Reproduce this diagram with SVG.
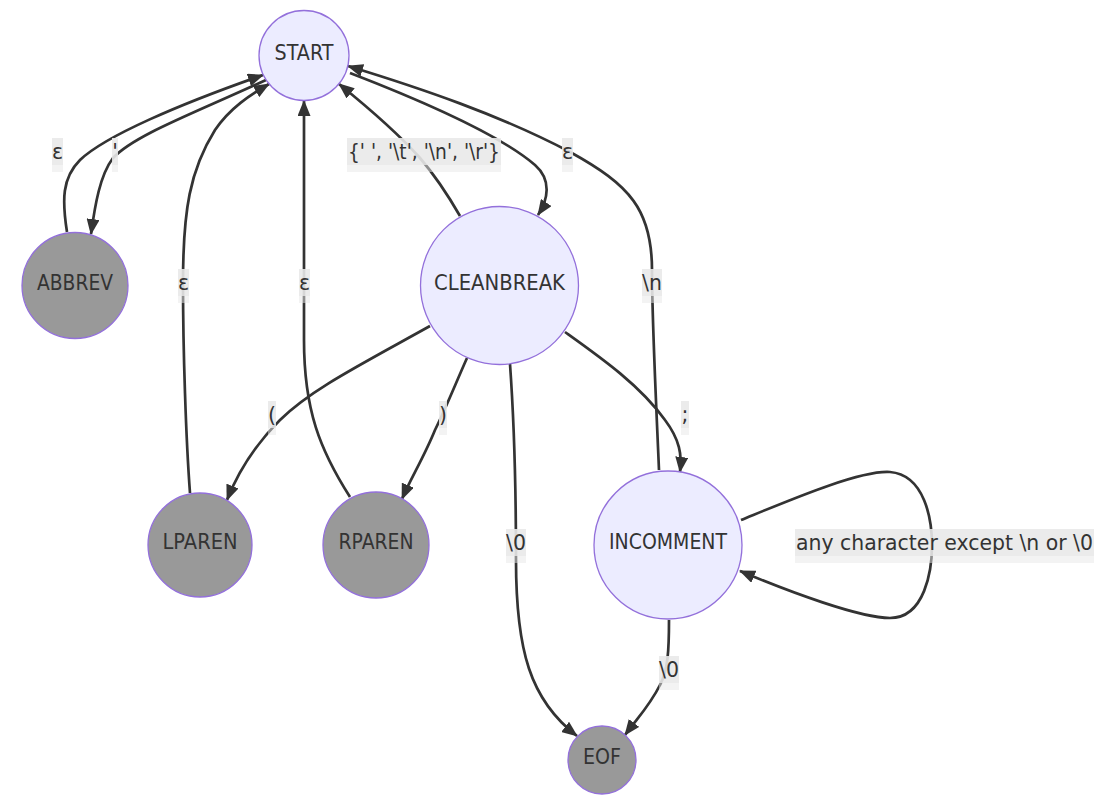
<svg xmlns="http://www.w3.org/2000/svg" width="1116" height="806" viewBox="0 0 1116 806">
<defs>
<style>
.node circle{stroke:#9370DB;stroke-width:1.3}
.state circle{fill:#ECECFF}
.final circle{fill:#999999}
.node text{font-family:"DejaVu Sans",sans-serif;font-size:20.5px;fill:#333333;text-anchor:middle}
.edges path{fill:none;stroke:#333333;stroke-width:2.7;marker-end:url(#arrow)}
.lbl .bgA{fill:#e8e8e8;fill-opacity:0.8}
.lbl .bgB{fill:#e8e8e8;fill-opacity:0.5}
.lbl text{font-family:"DejaVu Sans",sans-serif;font-size:20.5px;fill:#333333;text-anchor:middle}
</style>
<marker id="arrow" viewBox="0 0 16 13" refX="15" refY="6.5" markerWidth="16" markerHeight="13" markerUnits="userSpaceOnUse" orient="auto">
<path d="M0,0 L16,6.5 L0,13 z" fill="#333333"/>
</marker>
</defs>
<rect width="1116" height="806" fill="#ffffff"/>
<g id="connectors" class="edges">
<path id="e-abbrev-start" d="M67,232 C62,200 62,178 80,160 C105,136 180,104 263,75"/>
<path id="e-start-abbrev" d="M266,80 C190,115 135,135 113,158 C100,175 95,205 91,234"/>
<path id="e-lparen-start" d="M190,493 C186,440 183,350 183,283 C183,210 190,170 215,130 C230,108 250,95 269,84"/>
<path id="e-rparen-start" d="M350,497 C320,450 304,410 304,340 L304,101"/>
<path id="e-clean-start" d="M460,216 C445,190 432,172 420,158 C395,130 365,105 339,84"/>
<path id="e-start-clean" d="M350,73 C420,100 500,135 535,165 C552,180 548,200 538,215"/>
<path id="e-incomment-start" d="M659,470 C656,400 652,320 652,270 C652,210 630,185 570,152 C500,115 420,88 348,66"/>
<path id="e-clean-lparen" d="M430,326 C360,365 310,390 280,420 C255,445 238,472 227,500"/>
<path id="e-clean-rparen" d="M467,358 C455,385 445,410 435,430 C425,455 410,480 402,499"/>
<path id="e-clean-incomment" d="M565,332 C600,357 640,385 665,420 C680,440 682,455 680,472"/>
<path id="e-clean-eof" d="M510,364 C514,420 516,480 516,560 C516,650 530,700 577,736"/>
<path id="e-incomment-eof" d="M669,620 C669,650 668,670 660,685 C650,705 640,715 625,735"/>
<path id="e-incomment-self" d="M741,520 C790,500 860,470 890,472 C925,475 932,520 932,545 C932,570 925,618 890,618 C860,618 790,592 740,571"/>
</g>
<g id="edge-labels" class="lbl">
<g><rect class="bgB" x="52" y="138" width="11" height="34"/><rect class="bgA" x="52" y="138" width="11" height="27"/><text x="57.5" y="159">ε</text></g>
<g><rect class="bgB" x="112" y="138" width="6" height="34"/><rect class="bgA" x="112" y="138" width="6" height="27"/><text x="115" y="159">'</text></g>
<g><rect class="bgB" x="347" y="138" width="154" height="34"/><rect class="bgA" x="347" y="138" width="154" height="27"/><text x="424" y="159" textLength="152" lengthAdjust="spacingAndGlyphs">{' ', '\t', '\n', '\r'}</text></g>
<g><rect class="bgB" x="562" y="138" width="11" height="34"/><rect class="bgA" x="562" y="138" width="11" height="27"/><text x="567.5" y="159">ε</text></g>
<g><rect class="bgB" x="178" y="269" width="11" height="34"/><rect class="bgA" x="178" y="269" width="11" height="27"/><text x="183.5" y="290">ε</text></g>
<g><rect class="bgB" x="299" y="269" width="11" height="34"/><rect class="bgA" x="299" y="269" width="11" height="27"/><text x="304.5" y="290">ε</text></g>
<g><rect class="bgB" x="642" y="269" width="20" height="34"/><rect class="bgA" x="642" y="269" width="20" height="27"/><text x="652" y="290">\n</text></g>
<g><rect class="bgB" x="268" y="401" width="8" height="34"/><rect class="bgA" x="268" y="401" width="8" height="27"/><text x="272" y="422">(</text></g>
<g><rect class="bgB" x="439" y="401" width="8" height="34"/><rect class="bgA" x="439" y="401" width="8" height="27"/><text x="443" y="422">)</text></g>
<g><rect class="bgB" x="681" y="401" width="8" height="34"/><rect class="bgA" x="681" y="401" width="8" height="27"/><text x="685" y="422">;</text></g>
<g><rect class="bgB" x="506" y="529" width="20" height="34"/><rect class="bgA" x="506" y="529" width="20" height="27"/><text x="516" y="550">\0</text></g>
<g><rect class="bgB" x="795" y="529" width="299" height="34"/><rect class="bgA" x="795" y="529" width="299" height="27"/><text x="944.5" y="550" textLength="297" lengthAdjust="spacingAndGlyphs">any character except \n or \0</text></g>
<g><rect class="bgB" x="659" y="656" width="20" height="34"/><rect class="bgA" x="659" y="656" width="20" height="27"/><text x="669" y="677">\0</text></g>
</g>
<g id="START" class="node state"><circle cx="304" cy="55.5" r="45"/><text x="304" y="59.5" textLength="59" lengthAdjust="spacingAndGlyphs">START</text></g>
<g id="ABBREV" class="node final"><circle cx="75" cy="285.5" r="53"/><text x="75" y="289.5" textLength="76" lengthAdjust="spacingAndGlyphs">ABBREV</text></g>
<g id="CLEANBREAK" class="node state"><circle cx="499.5" cy="285.5" r="79"/><text x="499.5" y="289.5" textLength="131" lengthAdjust="spacingAndGlyphs">CLEANBREAK</text></g>
<g id="LPAREN" class="node final"><circle cx="200" cy="545" r="52"/><text x="200" y="549" textLength="75" lengthAdjust="spacingAndGlyphs">LPAREN</text></g>
<g id="RPAREN" class="node final"><circle cx="376" cy="545" r="53"/><text x="376" y="549" textLength="75" lengthAdjust="spacingAndGlyphs">RPAREN</text></g>
<g id="INCOMMENT" class="node state"><circle cx="668" cy="545" r="74"/><text x="668" y="549" textLength="118" lengthAdjust="spacingAndGlyphs">INCOMMENT</text></g>
<g id="EOF" class="node final"><circle cx="602" cy="760" r="34"/><text x="602" y="764" textLength="38" lengthAdjust="spacingAndGlyphs">EOF</text></g>
</svg>
